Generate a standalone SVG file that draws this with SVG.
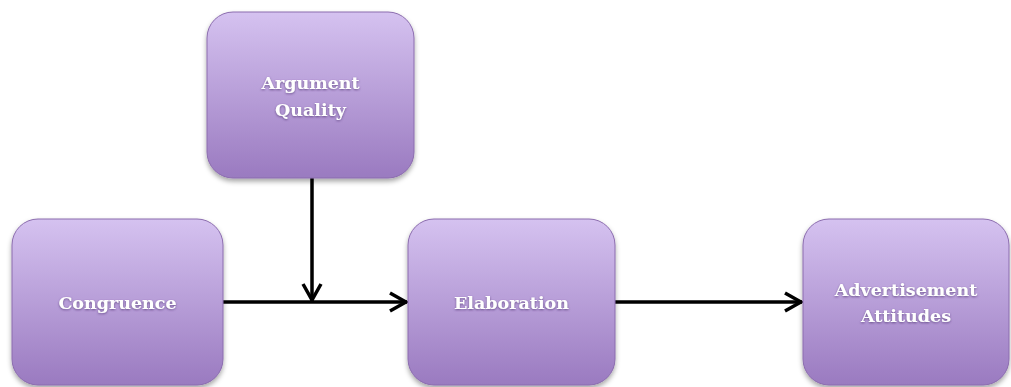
<svg xmlns="http://www.w3.org/2000/svg" width="1011" height="387" viewBox="0 0 1011 387">
<style>
.box{fill:url(#g);stroke:#8b6cae;stroke-width:1}
.lbl{font-family:"DejaVu Serif","Liberation Serif",serif;font-weight:bold;font-size:17.5px;fill:#fff;text-anchor:middle}
.edge{stroke:#000;stroke-width:3.5;fill:none}
</style>
<defs>
<linearGradient id="g" x1="0" y1="0" x2="0" y2="1">
<stop offset="0" stop-color="#d5c2f0"/>
<stop offset="1" stop-color="#9a7ac0"/>
</linearGradient>
<filter id="sh" x="-10%" y="-10%" width="120%" height="125%">
<feDropShadow dx="0" dy="3" stdDeviation="2.5" flood-color="#000" flood-opacity="0.35"/>
</filter>
<filter id="ts" x="-10%" y="-30%" width="120%" height="160%">
<feDropShadow dx="0" dy="1" stdDeviation="0.8" flood-color="#4a2f6a" flood-opacity="0.7"/>
</filter>
<marker id="ah" markerUnits="userSpaceOnUse" viewBox="0 0 22 24" refX="20" refY="12" markerWidth="22" markerHeight="24" orient="auto">
<path d="M3,3 L19,12 L3,21" stroke="#000" stroke-width="3.5" fill="none" stroke-linejoin="miter"/>
</marker>
</defs>
<g id="connectors">
<path class="edge" d="M223,302 L407,302" marker-end="url(#ah)"/>
<path class="edge" d="M312,178 L312,301" marker-end="url(#ah)"/>
<path class="edge" d="M615,302 L802,302" marker-end="url(#ah)"/>
</g>
<g id="argument-quality">
<rect class="box" x="207" y="12" width="207" height="166" rx="26" filter="url(#sh)"/>
<g filter="url(#ts)"><text class="lbl" x="310.5" y="89">Argument</text>
<text class="lbl" x="310.5" y="116">Quality</text></g>
</g>
<g id="congruence">
<rect class="box" x="12" y="219" width="211" height="166" rx="26" filter="url(#sh)"/>
<g filter="url(#ts)"><text class="lbl" x="117.5" y="309">Congruence</text></g>
</g>
<g id="elaboration">
<rect class="box" x="408" y="219" width="207" height="166" rx="26" filter="url(#sh)"/>
<g filter="url(#ts)"><text class="lbl" x="511.5" y="309">Elaboration</text></g>
</g>
<g id="advertisement-attitudes">
<rect class="box" x="803" y="219" width="206" height="166" rx="26" filter="url(#sh)"/>
<g filter="url(#ts)"><text class="lbl" x="906" y="296">Advertisement</text>
<text class="lbl" x="906" y="322">Attitudes</text></g>
</g>
</svg>
